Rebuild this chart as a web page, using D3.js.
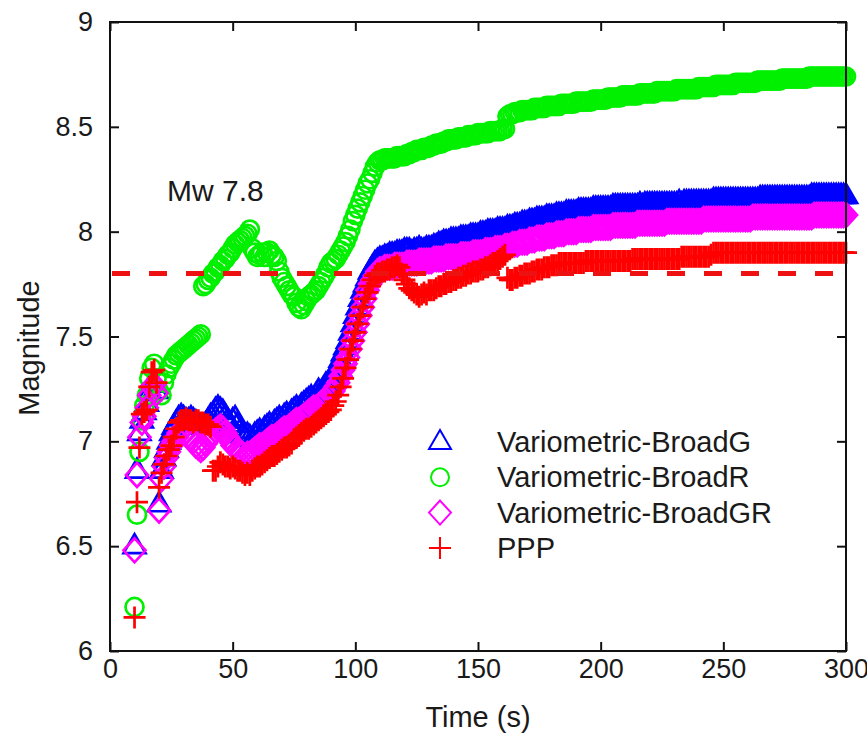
<!DOCTYPE html>
<html>
<head>
<meta charset="utf-8">
<script src="https://cdn.jsdelivr.net/npm/d3@7/dist/d3.min.js"></script>
<style>
  body { margin: 0; background: #fff; }
  text { font-family: "Liberation Sans", Arial, sans-serif; fill: #1a1a1a; }
</style>
</head>
<body>
<div id="chart"></div>
<script>
// epochs are 1 Hz, first solution at t = 10 s
var tStart = 10;

var xTicks = [0, 50, 100, 150, 200, 250, 300];
var yTicks = [6, 6.5, 7, 7.5, 8, 8.5, 9];
var refMw = 7.8;

var seriesNames = ['Variometric-BroadG', 'Variometric-BroadR', 'Variometric-BroadGR', 'PPP'];

var broadG = [
	6.50,6.86,7.04,7.10,7.14,7.18,7.23,7.27,7.28,7.24,
	6.70,6.86,6.92,6.96,7.00,7.04,7.07,7.09,7.11,7.12,
	7.11,7.10,7.10,7.11,7.10,7.09,7.08,7.07,7.07,7.08,
	7.10,7.12,7.13,7.15,7.16,7.15,7.14,7.12,7.10,7.08,
	7.10,7.11,7.08,7.05,7.03,7.02,7.03,7.02,7.01,7.03,
	7.04,7.05,7.04,7.06,7.07,7.08,7.07,7.09,7.10,7.11,
	7.10,7.12,7.13,7.12,7.14,7.15,7.16,7.15,7.17,7.18,
	7.19,7.20,7.21,7.20,7.22,7.24,7.23,7.25,7.27,7.28,
	7.29,7.31,7.33,7.36,7.39,7.42,7.45,7.48,7.52,7.56,
	7.60,7.64,7.68,7.72,7.75,7.78,7.81,7.83,7.85,7.86,
	7.87,7.87,7.88,7.88,7.89,7.89,7.89,7.90,7.90,7.90,
	7.91,7.91,7.91,7.90,7.91,7.91,7.92,7.91,7.91,7.92,
	7.92,7.92,7.93,7.93,7.94,7.94,7.95,7.95,7.95,7.96,
	7.96,7.96,7.96,7.97,7.97,7.97,7.97,7.98,7.98,7.98,
	7.98,7.99,7.99,7.99,8.00,8.00,8.00,8.00,8.01,8.01,
	8.01,8.01,8.02,8.02,8.02,8.03,8.03,8.03,8.04,8.04,
	8.04,8.05,8.05,8.05,8.06,8.06,8.06,8.06,8.07,8.07,
	8.07,8.07,8.08,8.08,8.08,8.08,8.09,8.09,8.09,8.09,
	8.09,8.10,8.10,8.10,8.10,8.10,8.10,8.11,8.11,8.11,
	8.11,8.11,8.11,8.11,8.11,8.12,8.12,8.12,8.12,8.12,
	8.12,8.12,8.12,8.12,8.12,8.12,8.13,8.12,8.13,8.13,
	8.13,8.13,8.13,8.13,8.13,8.13,8.13,8.13,8.13,8.13,
	8.13,8.13,8.14,8.13,8.14,8.14,8.14,8.14,8.14,8.14,
	8.14,8.14,8.14,8.14,8.14,8.14,8.15,8.15,8.15,8.15,
	8.15,8.15,8.15,8.15,8.15,8.15,8.15,8.15,8.15,8.15,
	8.15,8.15,8.15,8.15,8.15,8.16,8.16,8.16,8.16,8.16,
	8.16,8.16,8.16,8.16,8.16,8.16,8.16,8.16,8.16,8.16,
	8.16,8.16,8.16,8.16,8.16,8.16,8.17,8.17,8.17,8.17,
	8.17,8.17,8.17,8.17,8.17,8.17,8.17,8.17,8.17,8.17,
	8.17
];

var broadR = [
	6.21,6.65,6.95,7.10,7.17,7.22,7.30,7.35,7.37,7.30,
	7.24,7.22,7.28,7.32,7.35,7.37,7.39,7.41,7.42,7.43,
	7.44,7.45,7.46,7.47,7.48,7.49,7.50,7.51,7.74,7.75,
	7.77,7.78,7.80,7.81,7.83,7.84,7.86,7.87,7.89,7.90,
	7.92,7.94,7.95,7.96,7.97,7.98,7.99,8.01,7.92,7.90,
	7.88,7.89,7.90,7.88,7.90,7.91,7.89,7.88,7.86,7.81,
	7.78,7.76,7.74,7.72,7.70,7.69,7.66,7.64,7.63,7.65,
	7.67,7.69,7.70,7.71,7.72,7.74,7.76,7.78,7.80,7.83,
	7.85,7.86,7.87,7.89,7.91,7.93,7.95,7.98,8.01,8.05,
	8.08,8.11,8.14,8.17,8.20,8.23,8.25,8.28,8.31,8.33,
	8.34,8.34,8.35,8.35,8.35,8.35,8.35,8.36,8.36,8.36,
	8.36,8.37,8.37,8.38,8.38,8.39,8.39,8.39,8.40,8.40,
	8.40,8.41,8.41,8.42,8.42,8.42,8.43,8.43,8.44,8.44,
	8.44,8.44,8.45,8.45,8.45,8.45,8.46,8.46,8.46,8.46,
	8.47,8.47,8.47,8.47,8.47,8.48,8.48,8.48,8.48,8.48,
	8.49,8.49,8.55,8.56,8.56,8.57,8.57,8.57,8.58,8.58,
	8.58,8.58,8.58,8.59,8.59,8.59,8.59,8.59,8.60,8.60,
	8.60,8.60,8.60,8.60,8.61,8.61,8.61,8.61,8.61,8.61,
	8.62,8.62,8.62,8.62,8.62,8.62,8.62,8.63,8.63,8.63,
	8.63,8.63,8.63,8.64,8.64,8.64,8.64,8.64,8.64,8.65,
	8.65,8.65,8.65,8.65,8.65,8.65,8.66,8.66,8.66,8.66,
	8.66,8.66,8.66,8.67,8.67,8.67,8.67,8.67,8.67,8.67,
	8.67,8.68,8.68,8.68,8.68,8.68,8.68,8.68,8.68,8.68,
	8.69,8.69,8.69,8.69,8.69,8.69,8.69,8.70,8.70,8.70,
	8.70,8.70,8.70,8.70,8.70,8.71,8.71,8.71,8.71,8.71,
	8.71,8.71,8.71,8.71,8.72,8.72,8.72,8.72,8.72,8.72,
	8.72,8.72,8.72,8.72,8.73,8.73,8.73,8.73,8.73,8.73,
	8.73,8.73,8.73,8.73,8.73,8.74,8.74,8.74,8.74,8.74,
	8.74,8.74,8.74,8.74,8.74,8.74,8.74,8.74,8.74,8.74,
	8.74
];

var broadGR = [
	6.48,6.84,7.02,7.09,7.12,7.16,7.22,7.26,7.27,7.23,
	6.67,6.82,6.88,6.92,6.95,6.98,7.00,7.02,7.04,7.05,
	7.06,7.05,7.03,7.01,7.00,6.98,6.97,6.96,6.97,6.99,
	7.01,7.03,7.04,7.05,7.06,7.07,7.06,7.04,7.02,7.00,
	6.98,6.97,6.96,6.95,6.94,6.93,6.94,6.94,6.95,6.96,
	6.97,6.98,6.98,6.99,7.00,7.01,7.02,7.02,7.03,7.04,
	7.05,7.06,7.06,7.07,7.08,7.09,7.10,7.10,7.11,7.12,
	7.13,7.14,7.15,7.16,7.16,7.17,7.18,7.19,7.20,7.21,
	7.23,7.24,7.26,7.28,7.31,7.34,7.37,7.40,7.44,7.48,
	7.52,7.56,7.60,7.64,7.68,7.72,7.75,7.77,7.79,7.81,
	7.82,7.82,7.83,7.83,7.83,7.83,7.84,7.84,7.84,7.84,
	7.84,7.85,7.85,7.85,7.85,7.85,7.86,7.86,7.86,7.86,
	7.86,7.86,7.87,7.87,7.87,7.87,7.87,7.88,7.88,7.88,
	7.88,7.88,7.88,7.89,7.89,7.89,7.89,7.89,7.90,7.90,
	7.90,7.90,7.90,7.91,7.91,7.91,7.91,7.92,7.92,7.92,
	7.92,7.93,7.93,7.93,7.94,7.94,7.94,7.95,7.95,7.95,
	7.95,7.96,7.96,7.96,7.97,7.97,7.97,7.97,7.98,7.98,
	7.98,7.98,7.99,7.99,7.99,7.99,8.00,8.00,8.00,8.00,
	8.00,8.01,8.01,8.01,8.01,8.01,8.01,8.02,8.02,8.02,
	8.02,8.02,8.02,8.02,8.02,8.03,8.03,8.03,8.03,8.03,
	8.03,8.03,8.03,8.03,8.03,8.04,8.04,8.04,8.04,8.04,
	8.04,8.04,8.04,8.04,8.04,8.04,8.04,8.05,8.05,8.05,
	8.05,8.05,8.05,8.05,8.05,8.05,8.05,8.05,8.05,8.05,
	8.05,8.05,8.06,8.06,8.06,8.06,8.06,8.06,8.06,8.06,
	8.06,8.06,8.06,8.06,8.06,8.06,8.06,8.06,8.06,8.06,
	8.06,8.06,8.07,8.07,8.07,8.07,8.07,8.07,8.07,8.07,
	8.07,8.07,8.07,8.07,8.07,8.07,8.07,8.07,8.07,8.07,
	8.07,8.07,8.07,8.07,8.07,8.07,8.07,8.08,8.08,8.08,
	8.08,8.08,8.08,8.08,8.08,8.08,8.08,8.08,8.08,8.08,
	8.08
];

var ppp = [
	6.16,6.71,6.97,7.13,7.14,7.15,7.26,7.33,7.34,7.28,
	6.78,6.85,6.89,6.93,6.96,6.98,7.02,7.06,7.09,7.10,
	7.10,7.11,7.10,7.10,7.09,7.10,7.10,7.09,7.09,7.08,
	7.08,7.07,6.86,6.86,6.88,6.90,6.89,6.88,6.88,6.87,
	6.88,6.87,6.86,6.86,6.85,6.84,6.85,6.84,6.86,6.87,
	6.88,6.88,6.89,6.90,6.91,6.92,6.93,6.93,6.94,6.95,
	6.96,6.97,6.97,6.98,6.99,7.01,7.02,7.03,7.04,7.05,
	7.06,7.06,7.07,7.08,7.09,7.10,7.11,7.12,7.13,7.14,
	7.15,7.17,7.19,7.22,7.26,7.30,7.35,7.39,7.44,7.48,
	7.52,7.56,7.60,7.64,7.68,7.71,7.74,7.77,7.79,7.80,
	7.80,7.81,7.81,7.82,7.82,7.83,7.83,7.84,7.83,7.80,
	7.77,7.75,7.73,7.72,7.71,7.70,7.69,7.70,7.71,7.70,
	7.72,7.72,7.72,7.73,7.74,7.74,7.75,7.75,7.76,7.76,
	7.77,7.77,7.78,7.78,7.79,7.79,7.80,7.80,7.81,7.81,
	7.81,7.82,7.82,7.83,7.83,7.84,7.85,7.85,7.86,7.87,
	7.88,7.89,7.78,7.77,7.77,7.78,7.78,7.79,7.79,7.80,
	7.80,7.80,7.81,7.81,7.82,7.82,7.82,7.83,7.83,7.83,
	7.84,7.84,7.84,7.85,7.85,7.85,7.85,7.85,7.85,7.85,
	7.85,7.85,7.85,7.85,7.86,7.86,7.86,7.86,7.86,7.86,
	7.86,7.86,7.86,7.86,7.86,7.86,7.86,7.86,7.86,7.86,
	7.86,7.86,7.86,7.87,7.87,7.87,7.87,7.87,7.87,7.87,
	7.87,7.87,7.87,7.87,7.87,7.87,7.87,7.87,7.87,7.87,
	7.87,7.87,7.87,7.88,7.88,7.88,7.88,7.88,7.88,7.88,
	7.88,7.88,7.88,7.88,7.88,7.89,7.90,7.90,7.90,7.90,
	7.90,7.90,7.90,7.90,7.90,7.90,7.90,7.90,7.90,7.90,
	7.90,7.90,7.90,7.90,7.90,7.90,7.90,7.90,7.90,7.90,
	7.90,7.90,7.90,7.90,7.90,7.90,7.90,7.90,7.90,7.90,
	7.90,7.90,7.90,7.90,7.90,7.90,7.90,7.90,7.90,7.90,
	7.90,7.90,7.90,7.90,7.90,7.90,7.90,7.90,7.90,7.90,
	7.90
];

var svgWidth = 867;
var svgHeight = 737;
var margin = {left: 110, right: 21, top: 22, bottom: 86};
var tickLen = 9;

var x = d3.scaleLinear().domain([0, 300]).range([margin.left, svgWidth - margin.right]);
var y = d3.scaleLinear().domain([6, 9]).range([svgHeight - margin.bottom, margin.top]);

var svg = d3.select('#chart').append('svg')
	.attr('width', svgWidth).attr('height', svgHeight);

// marker shapes (gnuplot style open points)
var shapes = {
	tri: 'M0,-12L11,7L-11,7Z',
	circ: 'M9,0A9,9 0 1,1 -9,0A9,9 0 1,1 9,0Z',
	diam: 'M0,-12L11,0L0,12L-11,0Z',
	plus: 'M-11,0H11M0,-11V11'
};
var markerStroke = 2.7;

var series = [
	{name: seriesNames[0], values: broadG, color: '#0000ff', shape: shapes.tri},
	{name: seriesNames[1], values: broadR, color: '#00f000', shape: shapes.circ},
	{name: seriesNames[2], values: broadGR, color: '#ff00ff', shape: shapes.diam},
	{name: seriesNames[3], values: ppp, color: '#ff0000', shape: shapes.plus}
];

series.forEach(function(s) {
	var pts = s.values.map(function(v, i) { return {t: tStart + i, v: v}; });
	svg.append('g').selectAll('path').data(pts)
		.enter().append('path')
		.attr('d', s.shape)
		.attr('transform', function(d) { return 'translate(' + x(d.t) + ',' + y(d.v) + ')'; })
		.style('fill', 'none').style('stroke', s.color).style('stroke-width', markerStroke);
});

// reference magnitude line
svg.append('line')
	.attr('x1', x(0) + 2).attr('x2', x(300) - 4)
	.attr('y1', y(refMw)).attr('y2', y(refMw))
	.style('stroke', '#ee1111').style('stroke-width', 5)
	.style('stroke-dasharray', '18,19');

// axes with inward ticks on all four sides
var fontSize = 27;
var fmt = function(d) { return String(d); };
var xAxisB = d3.axisBottom(x).tickValues(xTicks).tickFormat(fmt).tickSizeInner(-tickLen).tickSizeOuter(0).tickPadding(8);
var xAxisT = d3.axisTop(x).tickValues(xTicks).tickSizeInner(-tickLen).tickSizeOuter(0).tickFormat('');
var yAxisL = d3.axisLeft(y).tickValues(yTicks).tickFormat(fmt).tickSizeInner(-tickLen).tickSizeOuter(0).tickPadding(17);
var yAxisR = d3.axisRight(y).tickValues(yTicks).tickSizeInner(-tickLen).tickSizeOuter(0).tickFormat('');

function styleAxis(g) {
	g.select('.domain').remove();
	g.selectAll('line').style('stroke', '#111').style('stroke-width', 2);
	g.selectAll('text').style('font-size', fontSize + 'px').style('fill', '#1a1a1a');
}

svg.append('g').attr('transform', 'translate(0,' + y(6) + ')').call(xAxisB).call(styleAxis);
svg.append('g').attr('transform', 'translate(0,' + y(9) + ')').call(xAxisT).call(styleAxis);
svg.append('g').attr('transform', 'translate(' + x(0) + ',0)').call(yAxisL).call(styleAxis);
svg.append('g').attr('transform', 'translate(' + x(300) + ',0)').call(yAxisR).call(styleAxis);

svg.append('rect')
	.attr('x', x(0)).attr('y', y(9))
	.attr('width', x(300) - x(0)).attr('height', y(6) - y(9))
	.style('fill', 'none').style('stroke', '#111').style('stroke-width', 2);

// labels
svg.append('text').attr('x', 167).attr('y', 201)
	.style('font-size', '30px').text('Mw 7.8');

svg.append('text')
	.attr('transform', 'translate(39,348) rotate(-90)')
	.attr('text-anchor', 'middle').style('font-size', '29px').text('Magnitude');

svg.append('text').attr('x', 478).attr('y', 727)
	.attr('text-anchor', 'middle').style('font-size', '29px').text('Time (s)');

// legend
var legend = svg.append('g').attr('transform', 'translate(440,442)');
series.forEach(function(s, i) {
	var row = legend.append('g').attr('transform', 'translate(0,' + (i * 35.3) + ')');
	row.append('path').attr('d', s.shape)
		.style('fill', 'none').style('stroke', s.color).style('stroke-width', 2);
	row.append('text').attr('x', 57).attr('y', 10)
		.style('font-size', '29px').text(s.name);
});
</script>
</body>
</html>
